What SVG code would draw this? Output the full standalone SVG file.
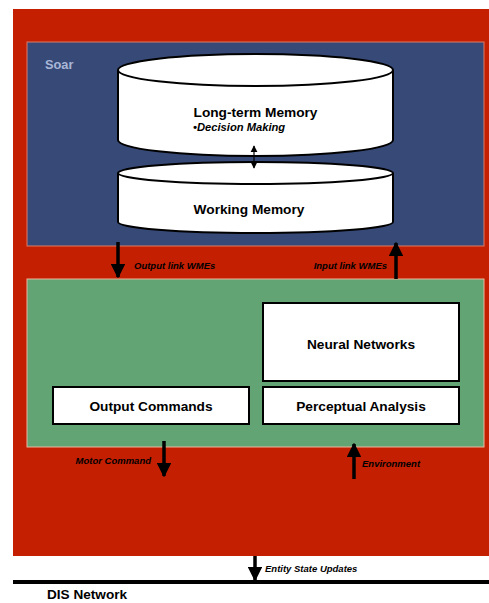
<svg xmlns="http://www.w3.org/2000/svg" width="489" height="603" viewBox="0 0 489 603">
  <defs>
    <style>
      text { font-family: "Liberation Sans", Arial, sans-serif; font-weight: bold; fill: #000; }
      .title { font-size: 13.7px; text-anchor: middle; }
      .sub { font-size: 11.2px; font-style: italic; }
      .lbl { font-size: 9.5px; font-style: italic; }
      .box { fill: #fff; stroke: #000; stroke-width: 2; }
      .cyl { fill: #fff; stroke: #000; stroke-width: 2; }
      .shaft { stroke: #000; stroke-width: 3.5; fill: none; }
      .thin { stroke: #000; stroke-width: 1.2; fill: none; }
    </style>
    <marker id="head" viewBox="0 0 10 10" refX="9" refY="5" markerWidth="4.2" markerHeight="4.2" orient="auto" markerUnits="strokeWidth">
      <path d="M0,0 L10,5 L0,10 z" fill="#000"/>
    </marker>
    <marker id="smallhead" viewBox="0 0 10 10" refX="9" refY="5" markerWidth="6" markerHeight="6" orient="auto-start-reverse" markerUnits="strokeWidth">
      <path d="M0,0 L10,5 L0,10 z" fill="#000"/>
    </marker>
  </defs>

  <!-- outer simulation frame -->
  <rect id="frame" x="13" y="9" width="476" height="547" fill="#C41F00"/>

  <!-- Soar panel -->
  <g id="soar">
    <rect x="27" y="42" width="457" height="204" fill="#374A77" stroke="#E07A66" stroke-width="1"/>
    <text x="45" y="69" style="font-size:12.8px; fill:#A9B6D8">Soar</text>
  </g>

  <!-- lower processing panel -->
  <g id="processing">
    <rect x="27" y="279" width="457" height="168" fill="#62A473" stroke="#E8B8A0" stroke-width="1"/>
  </g>

  <g id="long-term-memory">
    <path class="cyl" d="M118,70 L118,140 A137.5,16 0 0 0 393,140 L393,70"/>
    <ellipse class="cyl" cx="255.5" cy="70" rx="137.5" ry="16"/>
    <text class="title" x="255.5" y="117">Long-term Memory</text>
    <text class="sub" x="193" y="131">•Decision Making</text>
  </g>

  <g id="working-memory">
    <path class="cyl" d="M118,173 L118,222 A137.5,11 0 0 0 393,222 L393,173"/>
    <ellipse class="cyl" cx="255.5" cy="173" rx="137.5" ry="11"/>
    <text class="title" x="249" y="214">Working Memory</text>
  </g>

  <g id="neural-networks">
    <rect class="box" x="263" y="303" width="196" height="78"/>
    <text class="title" x="361" y="349">Neural Networks</text>
  </g>

  <g id="output-commands">
    <rect class="box" x="53" y="387" width="196" height="37"/>
    <text class="title" x="151" y="410.5">Output Commands</text>
  </g>

  <g id="perceptual-analysis">
    <rect class="box" x="263" y="387" width="196" height="37"/>
    <text class="title" x="361" y="410.5">Perceptual Analysis</text>
  </g>

  <!-- DIS network bus -->
  <g id="dis-network">
    <line x1="13" y1="582" x2="489" y2="582" stroke="#000" stroke-width="4"/>
    <text x="47" y="599" style="font-size:13.6px">DIS Network</text>
  </g>

  <g id="connectors">
    <line class="thin" x1="254" y1="146" x2="254" y2="168" marker-start="url(#smallhead)" marker-end="url(#smallhead)"/>

    <line class="shaft" x1="118" y1="242" x2="118" y2="277" marker-end="url(#head)"/>
    <text class="lbl" x="134" y="269">Output link WMEs</text>

    <line class="shaft" x1="396" y1="279" x2="396" y2="243" marker-end="url(#head)"/>
    <text class="lbl" x="387" y="269" text-anchor="end">Input link WMEs</text>

    <line class="shaft" x1="164" y1="441" x2="164" y2="476" marker-end="url(#head)"/>
    <text class="lbl" x="151" y="464" text-anchor="end">Motor Command</text>

    <line class="shaft" x1="354" y1="479" x2="354" y2="444" marker-end="url(#head)"/>
    <text class="lbl" x="362" y="467">Environment</text>

    <line class="shaft" x1="255" y1="556" x2="255" y2="580" marker-end="url(#head)"/>
    <text class="lbl" x="265" y="572">Entity State Updates</text>
  </g>
</svg>
